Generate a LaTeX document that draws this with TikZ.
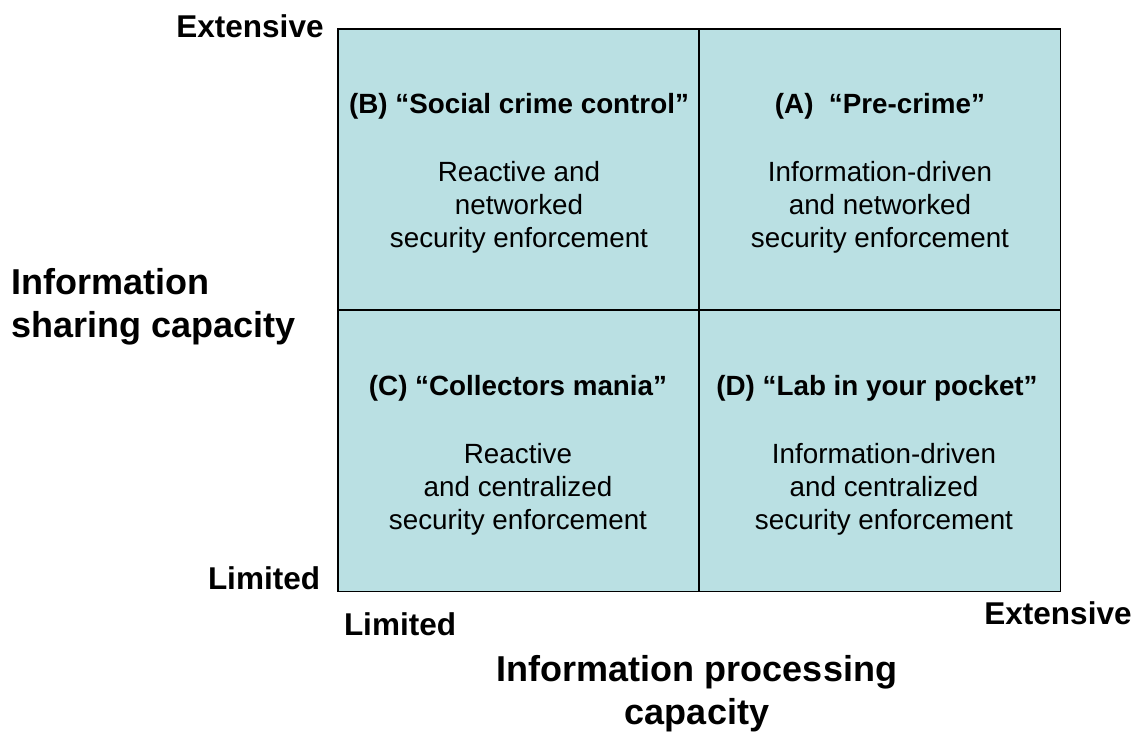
\documentclass[tikz,border=0pt]{standalone}
\usepackage{fontspec}
\setmainfont{Liberation Sans}
\begin{document}
\begin{tikzpicture}[x=1pt,y=-1pt,
  quad/.style={draw=black,line width=1.6pt,fill=quadfill,minimum width=361pt,minimum height=281pt,inner sep=0pt,anchor=center},
  qtitle/.style={font=\bfseries\fontsize{27.8}{32}\selectfont,inner sep=0pt,anchor=center},
  qbody/.style={font=\fontsize{27.8}{33}\selectfont,align=center,inner sep=0pt,anchor=center},
  axlab/.style={font=\bfseries\fontsize{31.5}{36}\selectfont,inner sep=0pt,anchor=center},
  axtitle/.style={font=\bfseries\fontsize{36}{43}\selectfont,inner sep=0pt}]
\definecolor{quadfill}{HTML}{BAE0E3}
\useasboundingbox (0,0) rectangle (1143,735);
\node[quad] (qB) at (518.5,169.5) {};
\node[quad] (qA) at (880,169.5) {};
\node[quad] (qC) at (518.5,451) {};
\node[quad] (qD) at (880,451) {};
\node[qtitle] (tB) at (519,106) {(B) “Social crime control”};
\node[qbody] (bB) at (519,207) {Reactive and\\networked\\security enforcement};
\node[qtitle] (tA) at (880,106) {(A)\ \ “Pre-crime”};
\node[qbody] (bA) at (880,207) {Information-driven\\and networked\\security enforcement};
\node[qtitle] (tC) at (518,388) {(C) “Collectors mania”};
\node[qbody] (bC) at (518,489) {Reactive\\and centralized\\security enforcement};
\node[qtitle] (tD) at (877,388) {(D) “Lab in your pocket”};
\node[qbody] (bD) at (884,489) {Information-driven\\and centralized\\security enforcement};
\node[axlab] (ext1) at (250,26) {Extensive};
\node[axlab] (lim1) at (264,578) {Limited};
\node[axlab] (lim2) at (400,624) {Limited};
\node[axlab] (ext2) at (1058,613) {Extensive};
\node[axtitle,align=left,anchor=west] (ytitle) at (11,307) {Information\\sharing capacity};
\node[axtitle,align=center,anchor=center] (xtitle) at (697,694) {Information processing\\capacity};
\end{tikzpicture}
\end{document}
